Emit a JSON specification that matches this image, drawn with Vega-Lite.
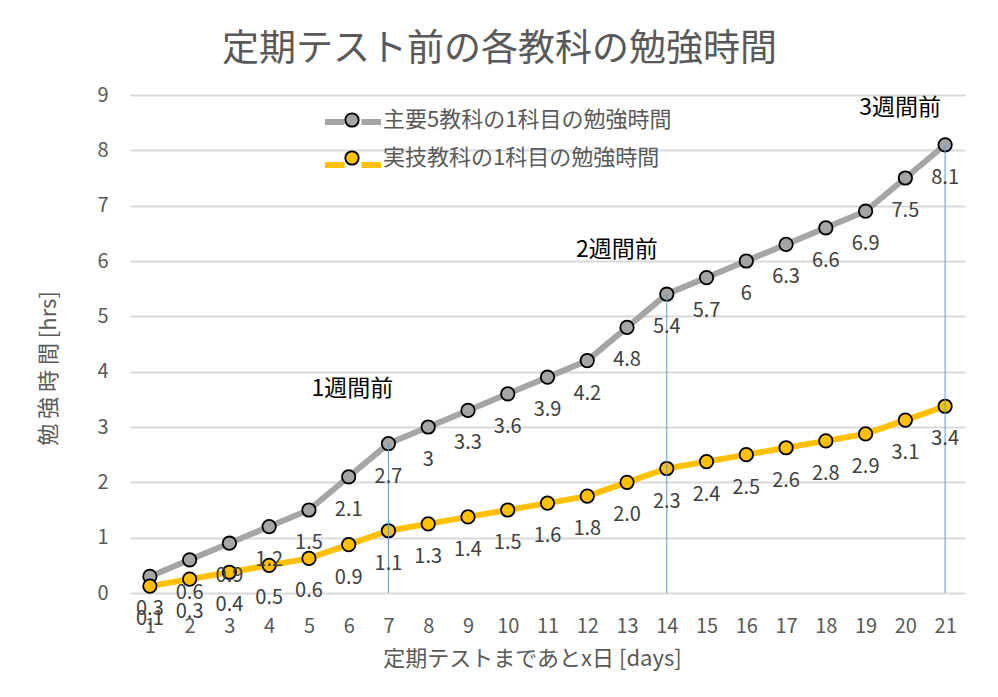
{
  "$schema": "https://vega.github.io/schema/vega-lite/v6.json",
  "width": 835,
  "height": 498,
  "autosize": {"type": "none"},
  "padding": {"left": 130, "top": 95, "right": 33, "bottom": 104},
  "background": "white",
  "config": {
    "font": "Noto Sans CJK JP",
    "view": {"stroke": null}
  },
  "title": {
    "text": "定期テスト前の各教科の勉強時間",
    "fontSize": 37,
    "fontWeight": "normal",
    "color": "#595959",
    "anchor": "middle",
    "dx": -48,
    "offset": 16
  },
  "datasets": {
    "study": [
      {"day": 1, "series": "主要5教科の1科目の勉強時間", "hrs": 0.3},
      {"day": 2, "series": "主要5教科の1科目の勉強時間", "hrs": 0.6},
      {"day": 3, "series": "主要5教科の1科目の勉強時間", "hrs": 0.9},
      {"day": 4, "series": "主要5教科の1科目の勉強時間", "hrs": 1.2},
      {"day": 5, "series": "主要5教科の1科目の勉強時間", "hrs": 1.5},
      {"day": 6, "series": "主要5教科の1科目の勉強時間", "hrs": 2.1},
      {"day": 7, "series": "主要5教科の1科目の勉強時間", "hrs": 2.7},
      {"day": 8, "series": "主要5教科の1科目の勉強時間", "hrs": 3},
      {"day": 9, "series": "主要5教科の1科目の勉強時間", "hrs": 3.3},
      {"day": 10, "series": "主要5教科の1科目の勉強時間", "hrs": 3.6},
      {"day": 11, "series": "主要5教科の1科目の勉強時間", "hrs": 3.9},
      {"day": 12, "series": "主要5教科の1科目の勉強時間", "hrs": 4.2},
      {"day": 13, "series": "主要5教科の1科目の勉強時間", "hrs": 4.8},
      {"day": 14, "series": "主要5教科の1科目の勉強時間", "hrs": 5.4},
      {"day": 15, "series": "主要5教科の1科目の勉強時間", "hrs": 5.7},
      {"day": 16, "series": "主要5教科の1科目の勉強時間", "hrs": 6},
      {"day": 17, "series": "主要5教科の1科目の勉強時間", "hrs": 6.3},
      {"day": 18, "series": "主要5教科の1科目の勉強時間", "hrs": 6.6},
      {"day": 19, "series": "主要5教科の1科目の勉強時間", "hrs": 6.9},
      {"day": 20, "series": "主要5教科の1科目の勉強時間", "hrs": 7.5},
      {"day": 21, "series": "主要5教科の1科目の勉強時間", "hrs": 8.1},
      {"day": 1, "series": "実技教科の1科目の勉強時間", "hrs": 0.125},
      {"day": 2, "series": "実技教科の1科目の勉強時間", "hrs": 0.25},
      {"day": 3, "series": "実技教科の1科目の勉強時間", "hrs": 0.375},
      {"day": 4, "series": "実技教科の1科目の勉強時間", "hrs": 0.5},
      {"day": 5, "series": "実技教科の1科目の勉強時間", "hrs": 0.625},
      {"day": 6, "series": "実技教科の1科目の勉強時間", "hrs": 0.875},
      {"day": 7, "series": "実技教科の1科目の勉強時間", "hrs": 1.125},
      {"day": 8, "series": "実技教科の1科目の勉強時間", "hrs": 1.25},
      {"day": 9, "series": "実技教科の1科目の勉強時間", "hrs": 1.375},
      {"day": 10, "series": "実技教科の1科目の勉強時間", "hrs": 1.5},
      {"day": 11, "series": "実技教科の1科目の勉強時間", "hrs": 1.625},
      {"day": 12, "series": "実技教科の1科目の勉強時間", "hrs": 1.75},
      {"day": 13, "series": "実技教科の1科目の勉強時間", "hrs": 2.0},
      {"day": 14, "series": "実技教科の1科目の勉強時間", "hrs": 2.25},
      {"day": 15, "series": "実技教科の1科目の勉強時間", "hrs": 2.375},
      {"day": 16, "series": "実技教科の1科目の勉強時間", "hrs": 2.5},
      {"day": 17, "series": "実技教科の1科目の勉強時間", "hrs": 2.625},
      {"day": 18, "series": "実技教科の1科目の勉強時間", "hrs": 2.75},
      {"day": 19, "series": "実技教科の1科目の勉強時間", "hrs": 2.875},
      {"day": 20, "series": "実技教科の1科目の勉強時間", "hrs": 3.125},
      {"day": 21, "series": "実技教科の1科目の勉強時間", "hrs": 3.375}
    ],
    "marks": [
      {"day": 7, "hrs": 2.7, "note": "1週間前"},
      {"day": 14, "hrs": 5.4, "note": "2週間前"},
      {"day": 21, "hrs": 8.1, "note": "3週間前"}
    ]
  },
  "encoding": {
    "x": {
      "field": "day",
      "type": "quantitative",
      "scale": {"domain": [0.5, 21.5], "nice": false, "zero": false},
      "axis": {
        "values": [1,2,3,4,5,6,7,8,9,10,11,12,13,14,15,16,17,18,19,20,21],
        "format": "d",
        "grid": false,
        "ticks": false,
        "domain": false,
        "labelFontSize": 20,
        "labelColor": "#595959",
        "labelPadding": 23,
        "title": "定期テストまであとx日 [days]",
        "titleFontSize": 22,
        "titleFontWeight": "normal",
        "titleColor": "#595959",
        "titlePadding": 12,
        "titleX": 402
      }
    },
    "y": {
      "field": "hrs",
      "type": "quantitative",
      "scale": {"domain": [0, 9], "nice": false},
      "axis": {
        "values": [0,1,2,3,4,5,6,7,8,9],
        "grid": true,
        "gridColor": "#D9D9D9",
        "gridWidth": 2,
        "ticks": false,
        "domain": false,
        "labelFontSize": 20,
        "labelColor": "#595959",
        "labelPadding": 22,
        "title": "勉 強 時 間 [hrs]",
        "titleFontSize": 22,
        "titleFontWeight": "normal",
        "titleColor": "#595959",
        "titlePadding": 36,
        "titleY": 273
      }
    }
  },
  "layer": [
    {
      "data": {"name": "study"},
      "mark": {"type": "line", "strokeWidth": 6},
      "encoding": {
        "color": {
          "field": "series",
          "type": "nominal",
          "scale": {"range": ["#A5A5A5", "#FFC000"]},
          "legend": {
            "orient": "none",
            "legendX": 192,
            "legendY": -4,
            "title": null,
            "padding": 0,
            "symbolType": "M-1,0H-0.3M0.3,0H1",
            "symbolSize": 3136,
            "symbolStrokeWidth": 6,
            "labelExpr": "''",
            "labelFontSize": 20,
            "rowPadding": -18
          }
        }
      }
    },
    {
      "data": {"name": "study"},
      "mark": {"type": "point", "shape": "circle", "filled": true, "size": 180, "stroke": "black", "strokeWidth": 1.8, "opacity": 1},
      "encoding": {
        "fill": {
          "field": "series",
          "type": "nominal",
          "scale": {"domain": ["主要5教科の1科目の勉強時間", "実技教科の1科目の勉強時間"], "range": ["#A5A5A5", "#FFC000"]},
          "legend": {
            "orient": "none",
            "legendX": 211,
            "legendY": 14,
            "title": null,
            "padding": 0,
            "symbolType": "circle",
            "symbolSize": 180,
            "symbolStrokeColor": "black",
            "symbolStrokeWidth": 1.8,
            "symbolOpacity": 1,
            "labelFontSize": 22,
            "labelColor": "#595959",
            "labelOffset": 20,
            "rowPadding": 16,
            "labelLimit": 500
          }
        }
      }
    },
    {
      "data": {"name": "marks"},
      "mark": {"type": "rule", "color": "#5B9BD5", "strokeWidth": 1},
      "encoding": {
        "y2": {"datum": 0}
      }
    },
    {
      "data": {"name": "study"},
      "transform": [{"filter": "datum.series === '主要5教科の1科目の勉強時間'"}],
      "mark": {"type": "text", "fontSize": 20, "color": "#404040", "dy": 33},
      "encoding": {
        "text": {"field": "hrs", "type": "quantitative"}
      }
    },
    {
      "data": {"name": "study"},
      "transform": [{"filter": "datum.series === '実技教科の1科目の勉強時間'"}],
      "mark": {"type": "text", "fontSize": 20, "color": "#404040", "dy": 33},
      "encoding": {
        "text": {"field": "hrs", "type": "quantitative", "format": ".1f"}
      }
    },
    {
      "data": {"name": "marks"},
      "transform": [{"filter": "datum.day === 7"}],
      "mark": {"type": "text", "fontSize": 23, "color": "#000000", "dx": -36, "dy": -55},
      "encoding": {"text": {"field": "note"}}
    },
    {
      "data": {"name": "marks"},
      "transform": [{"filter": "datum.day === 14"}],
      "mark": {"type": "text", "fontSize": 23, "color": "#000000", "dx": -50, "dy": -44},
      "encoding": {"text": {"field": "note"}}
    },
    {
      "data": {"name": "marks"},
      "transform": [{"filter": "datum.day === 21"}],
      "mark": {"type": "text", "fontSize": 23, "color": "#000000", "dx": -45, "dy": -37},
      "encoding": {"text": {"field": "note"}}
    }
  ],
  "resolve": {"scale": {"color": "independent", "fill": "independent"}}
}
